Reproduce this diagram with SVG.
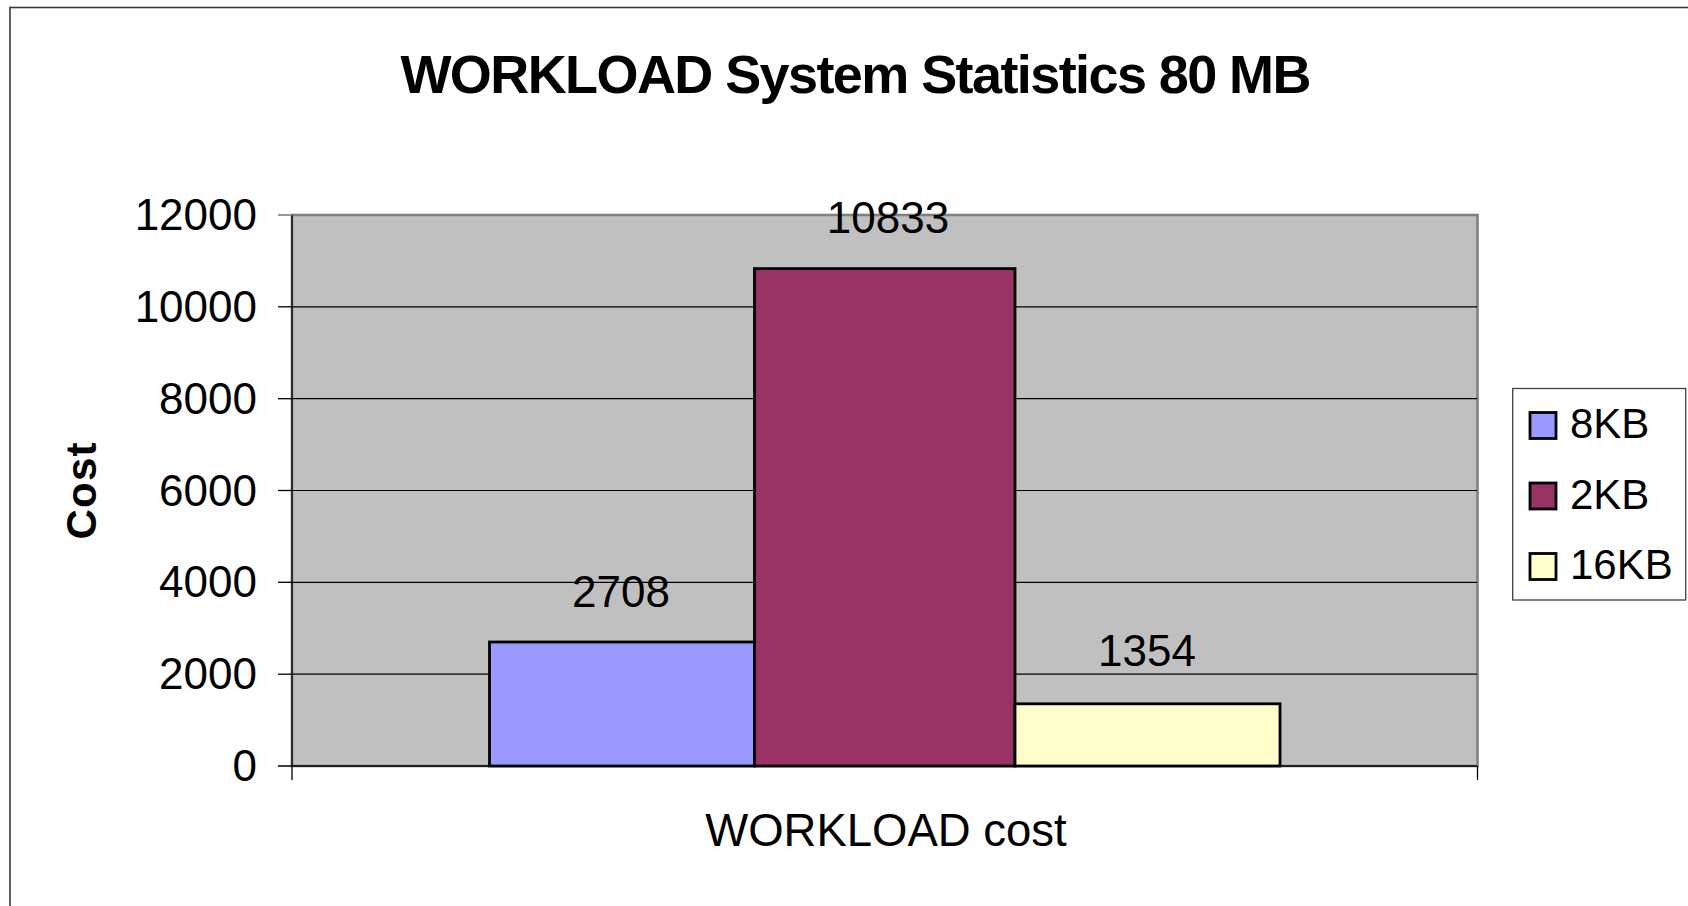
<svg xmlns="http://www.w3.org/2000/svg" width="1688" height="906" viewBox="0 0 1688 906">
  <style>
    text { font-family: "Liberation Sans", Arial, sans-serif; fill: #000; }
    .title { font-size: 54px; font-weight: bold; }
    .axis-title { font-size: 42px; font-weight: bold; }
    .tick { font-size: 44px; text-anchor: end; }
    .val { font-size: 44px; text-anchor: middle; }
    .cat { font-size: 45.5px; text-anchor: middle; }
    .leg { font-size: 42px; }
    .grid { stroke: #000; stroke-width: 1.2; }
    .tickmark { stroke: #000; stroke-width: 1.3; }
    .bar { stroke: #000; stroke-width: 2.8; }
    .swatch { stroke: #000; stroke-width: 2.8; }
    .s8 { fill: #9999FF; }
    .s2 { fill: #993366; }
    .s16 { fill: #FFFFCC; }
  </style>

  <!-- chart background and frame -->
  <rect x="0" y="0" width="1688" height="906" fill="#fff"/>
  <rect x="10" y="7.5" width="1720" height="940" fill="none" stroke="#3a3a3a" stroke-width="1.6"/>

  <!-- title -->
  <g id="title">
    <text class="title" x="856" y="92.5" text-anchor="middle" textLength="911" lengthAdjust="spacing">WORKLOAD System Statistics 80 MB</text>
  </g>

  <!-- plot area: 0..12000, y = 766 - v * 551/12000 -->
  <g id="plot-area">
    <rect x="292" y="215" width="1185.5" height="551" fill="#C0C0C0" stroke="#808080" stroke-width="2.6"/>
    <line class="grid" x1="292" y1="306.8" x2="1477" y2="306.8"/>
    <line class="grid" x1="292" y1="398.7" x2="1477" y2="398.7"/>
    <line class="grid" x1="292" y1="490.5" x2="1477" y2="490.5"/>
    <line class="grid" x1="292" y1="582.3" x2="1477" y2="582.3"/>
    <line class="grid" x1="292" y1="674.2" x2="1477" y2="674.2"/>
  </g>

  <!-- bars -->
  <g id="bar-8KB">
    <rect class="bar s8" x="489.5" y="642" width="265" height="124"/>
    <text class="val" x="621" y="606.5">2708</text>
  </g>
  <g id="bar-2KB">
    <rect class="bar s2" x="754.5" y="268.6" width="260.5" height="497.4"/>
    <text class="val" x="888" y="233">10833</text>
  </g>
  <g id="bar-16KB">
    <rect class="bar s16" x="1015" y="703.8" width="265" height="62.2"/>
    <text class="val" x="1147" y="666">1354</text>
  </g>

  <!-- axes, ticks and tick labels -->
  <g id="axes">
    <line class="tickmark" x1="292" y1="215" x2="292" y2="780"/>
    <line class="tickmark" x1="278" y1="766" x2="1477" y2="766"/>
    <line x1="278" y1="215" x2="292" y2="215" stroke="#808080" stroke-width="1.6"/>
    <line class="tickmark" x1="278" y1="306.8" x2="292" y2="306.8"/>
    <line class="tickmark" x1="278" y1="398.7" x2="292" y2="398.7"/>
    <line class="tickmark" x1="278" y1="490.5" x2="292" y2="490.5"/>
    <line class="tickmark" x1="278" y1="582.3" x2="292" y2="582.3"/>
    <line class="tickmark" x1="278" y1="674.2" x2="292" y2="674.2"/>
    <line class="tickmark" x1="1477.5" y1="766" x2="1477.5" y2="780"/>

    <text class="tick" x="257" y="230">12000</text>
    <text class="tick" x="257" y="321.8">10000</text>
    <text class="tick" x="257" y="413.7">8000</text>
    <text class="tick" x="257" y="505.5">6000</text>
    <text class="tick" x="257" y="597.3">4000</text>
    <text class="tick" x="257" y="689.2">2000</text>
    <text class="tick" x="257" y="781">0</text>

    <text class="cat" x="886" y="846">WORKLOAD cost</text>
    <text class="axis-title" x="0" y="0" text-anchor="middle" textLength="97" lengthAdjust="spacing" transform="translate(96 491) rotate(-90)">Cost</text>
  </g>

  <!-- legend -->
  <g id="legend">
    <rect x="1512.7" y="388.5" width="173" height="211.5" fill="#fff" stroke="#404040" stroke-width="1.3"/>
    <g id="legend-8KB">
      <rect class="swatch s8" x="1530" y="412.5" width="26" height="26"/>
      <text class="leg" x="1570" y="438">8KB</text>
    </g>
    <g id="legend-2KB">
      <rect class="swatch s2" x="1530" y="483" width="26" height="26"/>
      <text class="leg" x="1570" y="508.5">2KB</text>
    </g>
    <g id="legend-16KB">
      <rect class="swatch s16" x="1530" y="553.5" width="26" height="26"/>
      <text class="leg" x="1570" y="579">16KB</text>
    </g>
  </g>
</svg>
